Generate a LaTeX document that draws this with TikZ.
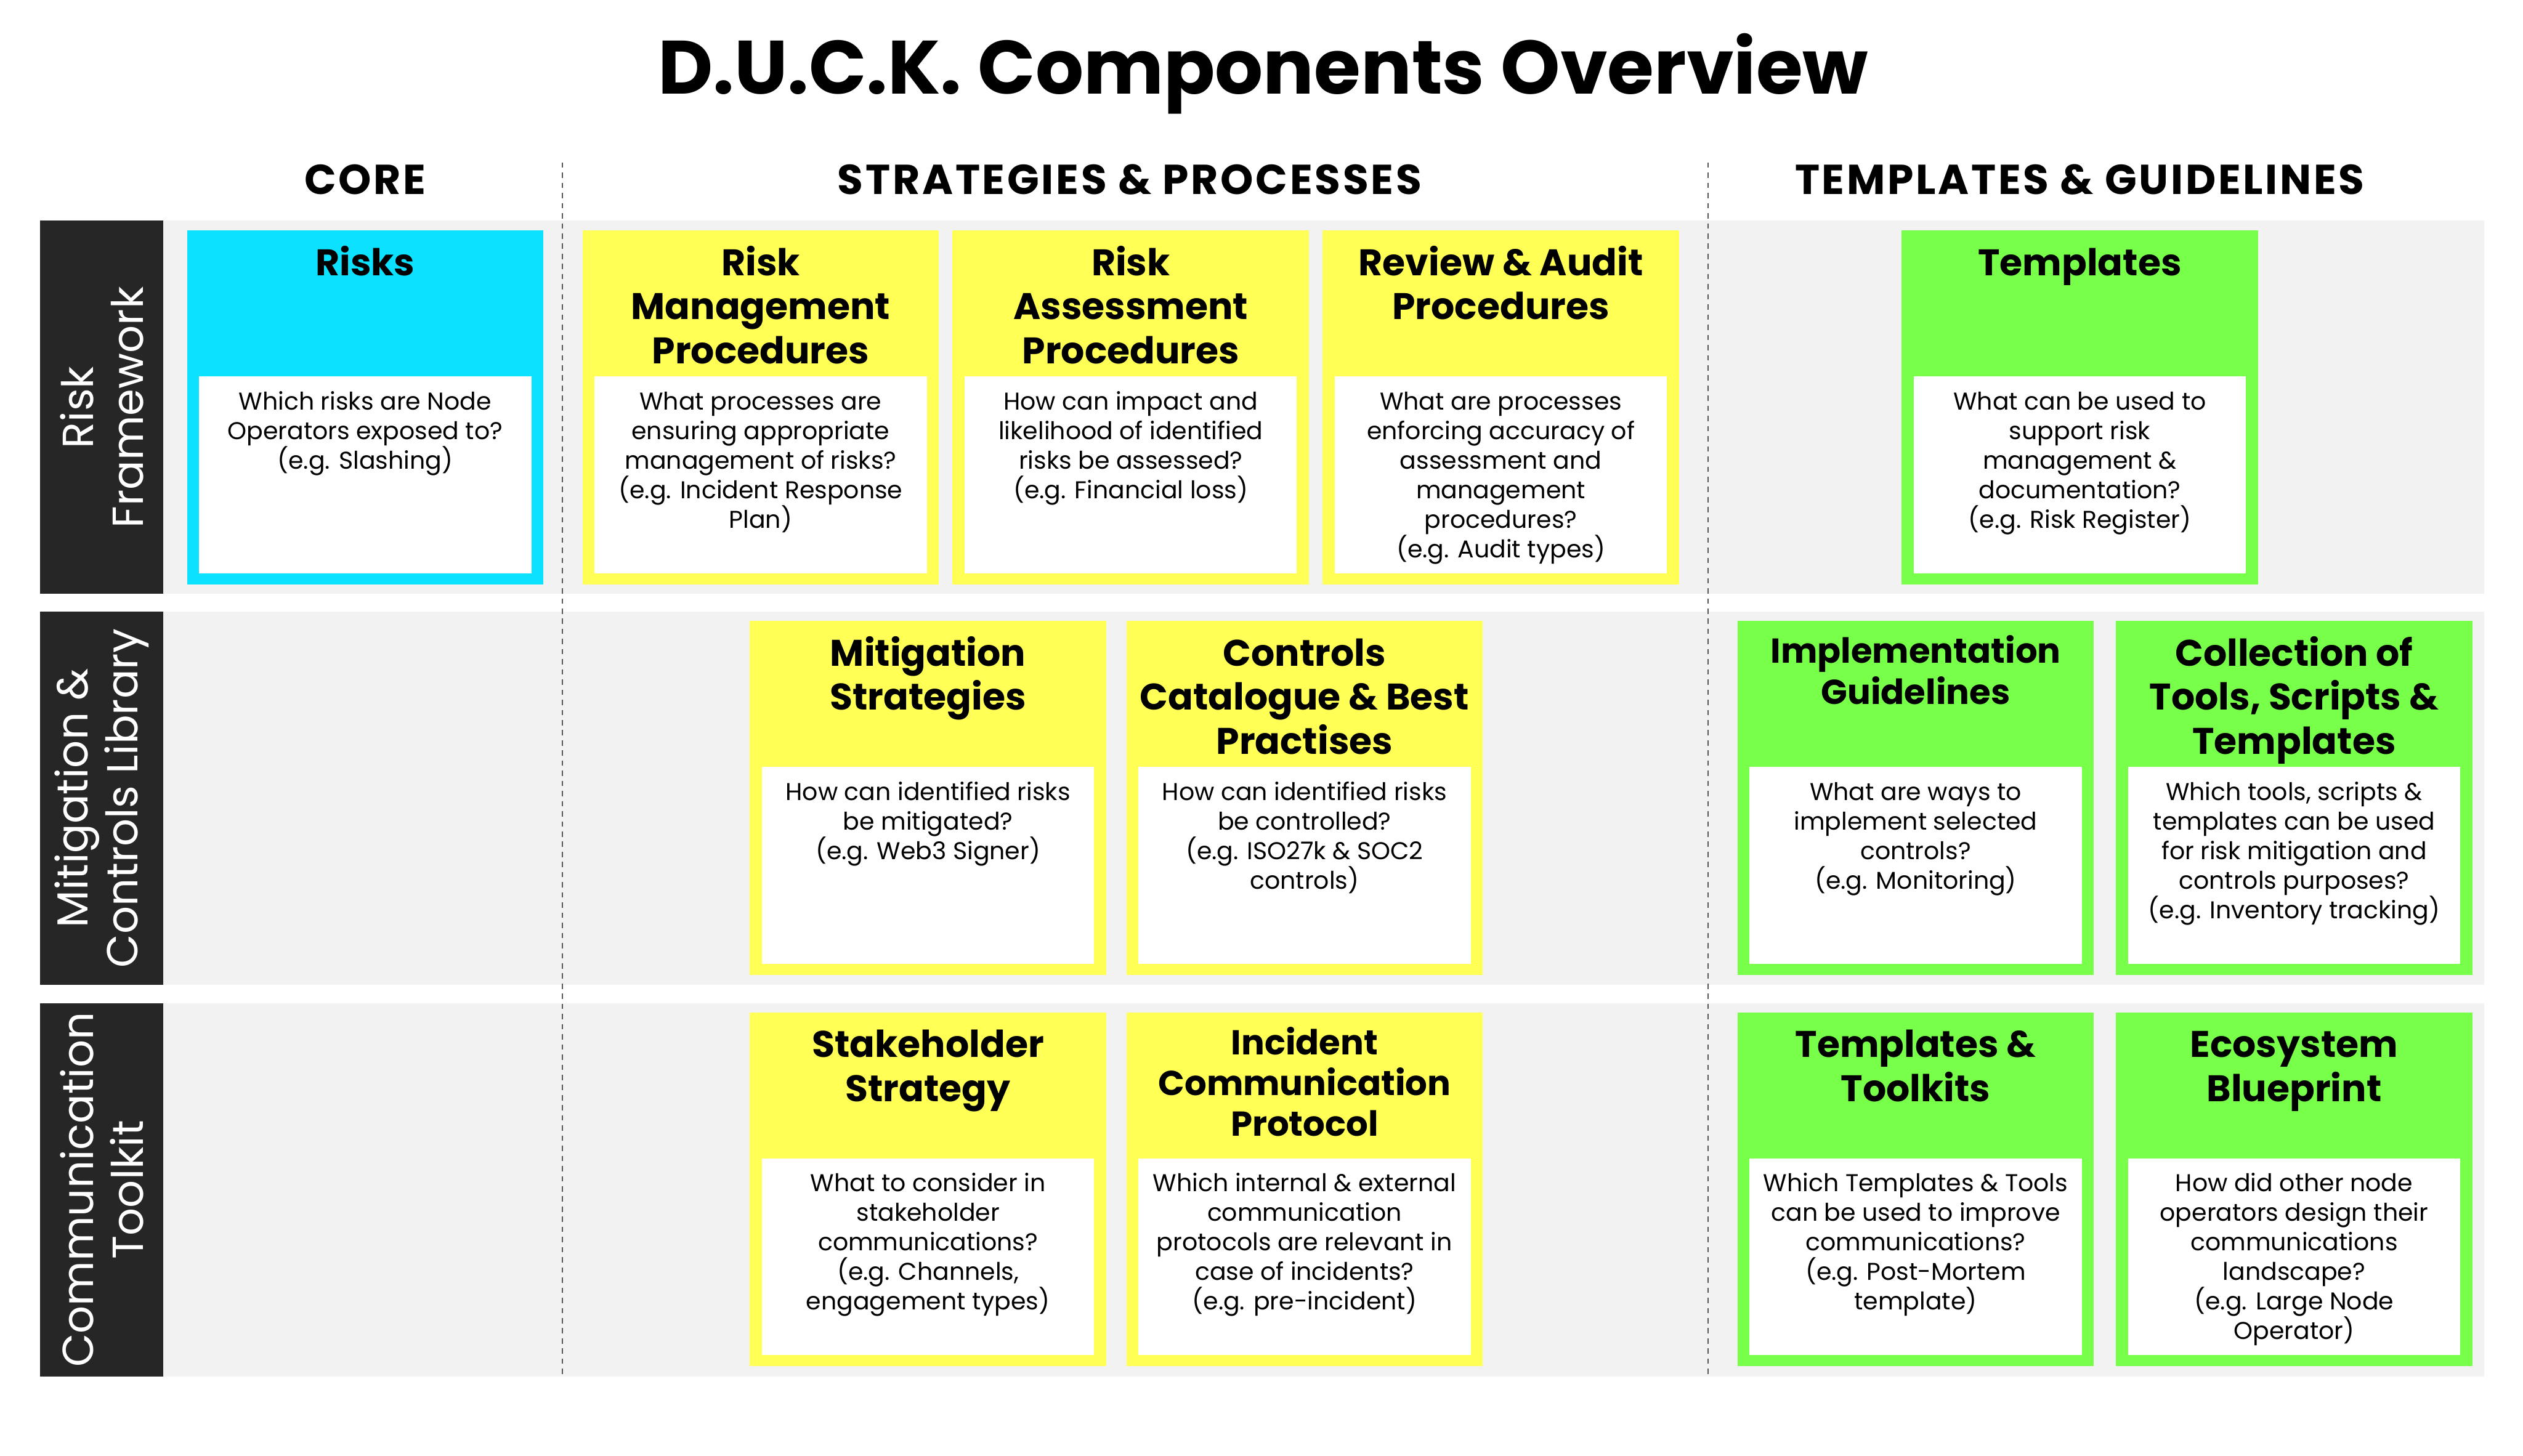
\documentclass[tikz,border=0pt]{standalone}
\usepackage{fontspec}
\setmainfont{Poppins}
\definecolor{cyanbox}{HTML}{0CE1FF}
\definecolor{yellowbox}{HTML}{FFFF55}
\definecolor{greenbox}{HTML}{77FF4A}
\definecolor{bandgrey}{HTML}{F2F2F2}
\definecolor{darklabel}{HTML}{262626}
\definecolor{divgrey}{HTML}{555555}
\tikzset{
  bandbox/.style={anchor=north west, inner sep=0, outer sep=0, fill=bandgrey, minimum width=1442.4pt, minimum height=232pt},
  labelbox/.style={anchor=north west, inner sep=0, outer sep=0, fill=darklabel, minimum width=76.6pt, minimum height=232pt},
  rowlabel/.style={rotate=90, text=white, align=center, inner sep=0, font=\fontsize{27}{31}\selectfont},
  cardbox/.style={anchor=north west, inner sep=0, outer sep=0, minimum width=221.5pt, minimum height=220pt},
  innerbox/.style={anchor=north west, inner sep=0, outer sep=0, fill=white, minimum width=206.5pt, minimum height=122.3pt},
  titletext/.style={anchor=north, inner sep=0, align=center, font=\bfseries\fontsize{23}{27.3}\selectfont},
  smalltitle/.style={font=\bfseries\fontsize{21.5}{25.4}\selectfont, yshift=1.8pt},
  normaltitle/.style={},
  desctext/.style={anchor=north, inner sep=0, align=center, font=\fontsize{15.1}{18.4}\selectfont},
  header/.style={anchor=base, inner sep=0, font=\bfseries\fontsize{26}{30}\selectfont\addfontfeatures{LetterSpace=5.5}},
  divider/.style={draw=divgrey, line width=0.9pt, dash pattern=on 3.3pt off 3pt}
}
\newcommand\duckcard[7]{%
  \node[cardbox, fill=#4] (#1) at (#2,#3) {};
  \node[innerbox] (#1-in) at ({#2+7.5},{#3+90.7}) {};
  \node[titletext,#5] (#1-t) at ({#2+110.75},{#3+7.8}) {\rule{0pt}{20pt}#6};
  \node[desctext] (#1-d) at ({#2+110.75},{#3+96.2}) {\rule{0pt}{15pt}#7};
}
\begin{document}
\begin{tikzpicture}[x=1pt,y=-1pt]
\useasboundingbox (0,0) rectangle (1568,904.8);
\fill[white] (0,0) rectangle (1568,904.8);

% title and headers
\node[anchor=base, inner sep=0, font=\bfseries\fontsize{47}{50}\selectfont] (title) at (785,58.2) {D.U.C.K. Components Overview};
\node[header] (hcore) at (227,120.6) {CORE};
\node[header] (hstrat) at (702,120.6) {STRATEGIES \& PROCESSES};
\node[header] (htempl) at (1292.5,120.6) {TEMPLATES \& GUIDELINES};

% row bands
\node[bandbox] (band1) at (101.6,137.2) {};
\node[bandbox] (band2) at (101.6,380.2) {};
\node[bandbox] (band3) at (101.6,623.5) {};
\node[labelbox] (lab1) at (25,137.2) {};
\node[labelbox] (lab2) at (25,380.2) {};
\node[labelbox] (lab3) at (25,623.5) {};
\node[rowlabel] (rl1) at (63.3,253.2) {Risk\\Framework};
\node[rowlabel] (rl2) at (63.3,496.2) {Mitigation \&\\Controls Library};
\node[rowlabel] (rl3) at (63.3,739.5) {Communication\\Toolkit};

% dividers
\coordinate (d1t) at (349.4,101);
\coordinate (d1b) at (349.4,855);
\coordinate (d2t) at (1061.6,101);
\coordinate (d2b) at (1061.6,855);
\draw[divider] (d1t) -- (d1b);
\draw[divider] (d2t) -- (d2b);

% row 1
\duckcard{risks}{116.2}{143.3}{cyanbox}{normaltitle}{Risks}{Which risks are Node\\Operators exposed to?\\(e.g. Slashing)}
\duckcard{rmp}{362}{143.3}{yellowbox}{normaltitle}{Risk\\Management\\Procedures}{What processes are\\ensuring appropriate\\management of risks?\\(e.g. Incident Response\\Plan)}
\duckcard{rap}{592}{143.3}{yellowbox}{normaltitle}{Risk\\Assessment\\Procedures}{How can impact and\\likelihood of identified\\risks be assessed?\\(e.g. Financial loss)}
\duckcard{rev}{822}{143.3}{yellowbox}{normaltitle}{Review \& Audit\\Procedures}{What are processes\\enforcing accuracy of\\assessment and\\management\\procedures?\\(e.g. Audit types)}
\duckcard{tpl}{1181.8}{143.3}{greenbox}{normaltitle}{Templates}{What can be used to\\support risk\\management \&\\documentation?\\(e.g. Risk Register)}

% row 2
\duckcard{mit}{466}{386}{yellowbox}{normaltitle}{Mitigation\\Strategies}{How can identified risks\\be mitigated?\\(e.g. Web3 Signer)}
\duckcard{ctl}{700}{386}{yellowbox}{normaltitle}{Controls\\Catalogue \& Best\\Practises}{How can identified risks\\be controlled?\\(e.g. ISO27k \& SOC2\\controls)}
\duckcard{impl}{1079.8}{386}{greenbox}{smalltitle}{Implementation\\Guidelines}{What are ways to\\implement selected\\controls?\\(e.g. Monitoring)}
\duckcard{coll}{1315}{386}{greenbox}{normaltitle}{Collection of\\Tools, Scripts \&\\Templates}{Which tools, scripts \&\\templates can be used\\for risk mitigation and\\controls purposes?\\(e.g. Inventory tracking)}

% row 3
\duckcard{stake}{466}{629.2}{yellowbox}{normaltitle}{Stakeholder\\Strategy}{What to consider in\\stakeholder\\communications?\\(e.g. Channels,\\engagement types)}
\duckcard{icp}{700}{629.2}{yellowbox}{smalltitle}{Incident\\Communication\\Protocol}{Which internal \& external\\communication\\protocols are relevant in\\case of incidents?\\(e.g. pre-incident)}
\duckcard{ttk}{1079.8}{629.2}{greenbox}{normaltitle}{Templates \&\\Toolkits}{Which Templates \& Tools\\can be used to improve\\communications?\\(e.g. Post-Mortem\\template)}
\duckcard{eco}{1315}{629.2}{greenbox}{normaltitle}{Ecosystem\\Blueprint}{How did other node\\operators design their\\communications\\landscape?\\(e.g. Large Node\\Operator)}
\end{tikzpicture}
\end{document}
